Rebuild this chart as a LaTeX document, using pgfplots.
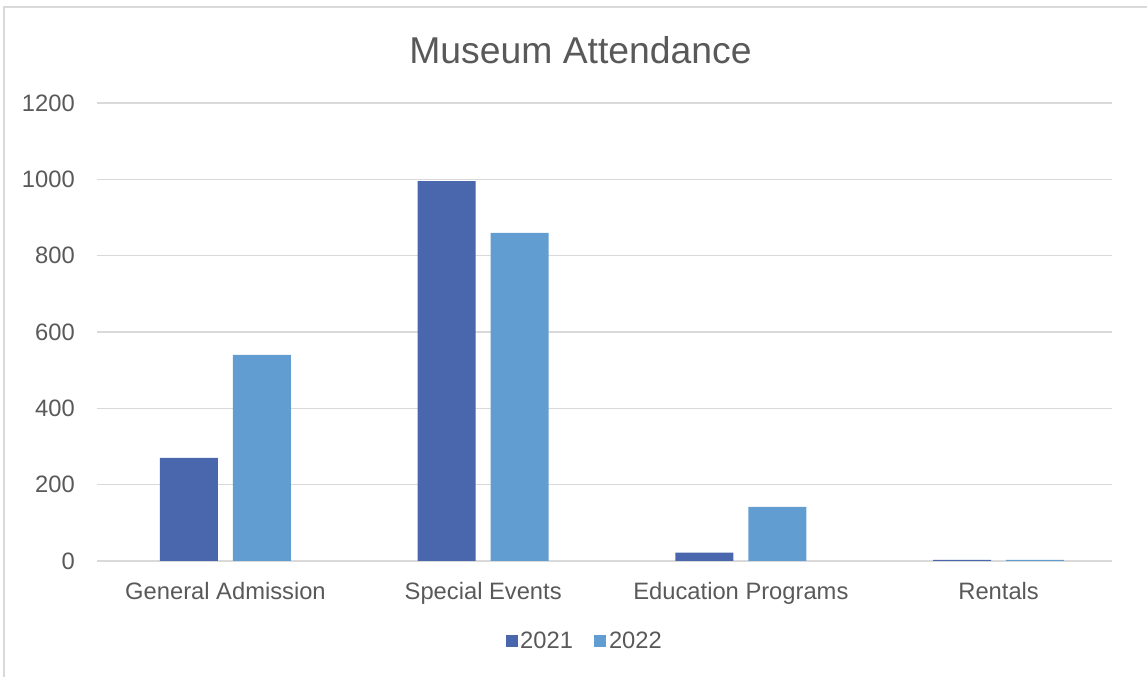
\documentclass[border=0pt]{standalone}
\usepackage{pgfplots}
\pgfplotsset{compat=1.18}
\usepackage{fontspec}
\setmainfont{Liberation Sans}
\definecolor{cA}{HTML}{4A66AC}
\definecolor{cB}{HTML}{629DD1}
\definecolor{gridc}{HTML}{D9D9D9}
\definecolor{txt}{HTML}{595959}
\begin{document}
\begin{tikzpicture}[x=0.75pt,y=0.75pt]
\useasboundingbox (0,0) rectangle (1147,677);
\draw[gridc, line width=1pt] (4,-20) -- (4,670) -- (1170,670);
\node[txt, anchor=base, inner sep=0pt, font=\fontsize{28}{32}\selectfont] at (580.5,613) {Museum Attendance};
\begin{axis}[
  at={(72.75pt,87pt)}, anchor=south west,
  scale only axis, width=761.25pt, height=343.5pt,
  ybar=11.25pt, bar width=43.5pt,
  xmin=-0.4986, xmax=3.440, ymin=0, ymax=1200,
  enlarge x limits=false,
  xtick={0,1,2,3},
  xticklabels={General Admission, Special Events, Education Programs, Rentals},
  ytick={0,200,400,600,800,1000,1200},
  ymajorgrids, major grid style={gridc, line width=1pt},
  axis line style={draw=none}, tick style={draw=none}, major tick length=0pt,
  ticklabel style={txt, font=\fontsize{17.8}{20}\selectfont, inner sep=0pt},
  yticklabel style={anchor=east, xshift=-16.5pt},
  xticklabel style={anchor=base, yshift=-29.25pt},
  /pgf/number format/assume math mode=true,
  /pgf/number format/1000 sep={},
  legend style={at={(0.4808,-0.1747)}, anchor=center, draw=none, fill=none,
    legend columns=2, font=\fontsize{17.8}{20}\selectfont, text=txt,
    /tikz/every even column/.append style={column sep=14pt},
    legend cell align=left, inner sep=0pt},
  legend image code/.code={\fill[#1] (0pt,-4.5pt) rectangle (9pt,4.5pt);},
]
\addplot[fill=cA, draw=none] coordinates {(0,270) (1,995) (2,22) (3,3)};
\addplot[fill=cB, draw=none] coordinates {(0,540) (1,860) (2,142) (3,3)};
\legend{2021,2022}
\end{axis}
\end{tikzpicture}
\end{document}
